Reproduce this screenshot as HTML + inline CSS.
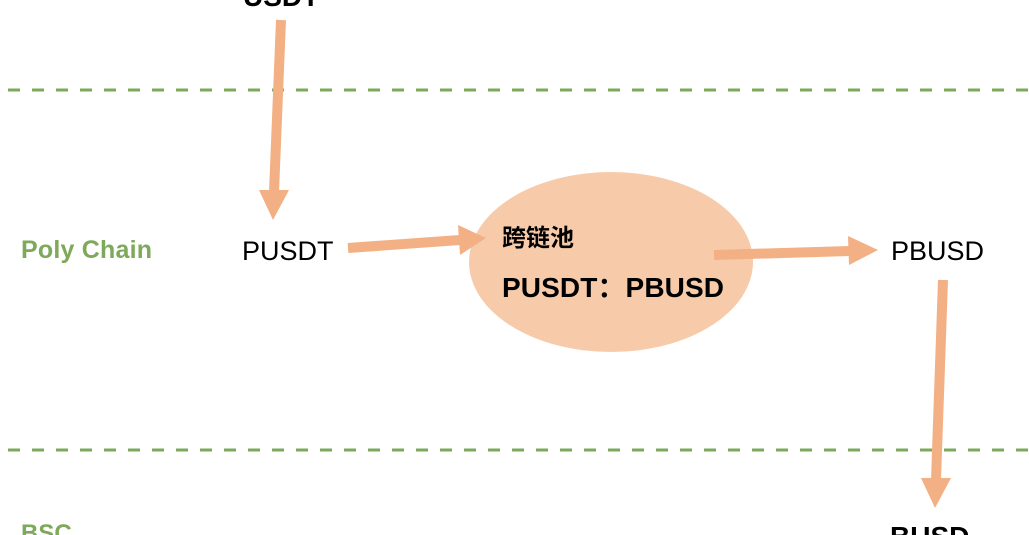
<!DOCTYPE html>
<html><head><meta charset="utf-8"><style>
html,body{margin:0;padding:0;background:#fff;}
svg{display:block;}
</style></head><body>
<svg width="1029" height="535" viewBox="0 0 1029 535" xmlns="http://www.w3.org/2000/svg">
<line x1="8" y1="90" x2="1029" y2="90" stroke="#7ea85a" stroke-width="3" stroke-dasharray="12 12"/>
<line x1="8" y1="450" x2="1029" y2="450" stroke="#7ea85a" stroke-width="3" stroke-dasharray="12 12"/>
<ellipse cx="611" cy="262" rx="142" ry="90" fill="#f7cba9"/>
<g stroke="#f2b084" stroke-width="10" fill="#f2b084">
<line x1="281" y1="20" x2="274" y2="192"/>
<line x1="348" y1="248" x2="460" y2="240"/>
<line x1="714" y1="255" x2="850" y2="251"/>
<line x1="943" y1="280" x2="936" y2="480"/>
</g>
<g fill="#f2b084">
<polygon points="259,190 289,190 273,220"/>
<polygon points="458,225 460,255 486,238"/>
<polygon points="848,236 849,265 878,250"/>
<polygon points="921,478 951,478 935,508"/>
</g>
<g font-family="Liberation Sans, Noto Sans CJK SC, sans-serif">
<text x="21" y="-2" font-size="24" font-weight="bold" fill="#7ea85a">Ethereum</text>
<text x="21" y="258" font-size="25" font-weight="bold" fill="#7ea85a" textLength="131">Poly Chain</text>
<text x="21" y="541" font-size="24" font-weight="bold" fill="#7ea85a">BSC</text>
<text x="243" y="6" font-size="28" font-weight="bold" fill="#000">USDT</text>
<text x="242" y="260" font-size="27" fill="#000">PUSDT</text>
<text x="891" y="260" font-size="27" fill="#000">PBUSD</text>
<text x="890" y="546" font-size="28" font-weight="bold" fill="#000">BUSD</text>
<text x="502" y="246" font-size="24" font-weight="bold" fill="#000">跨链池</text>
<text x="502" y="297" font-size="28" font-weight="bold" fill="#000" textLength="222">PUSDT：PBUSD</text>
</g>
</svg>
</body></html>
